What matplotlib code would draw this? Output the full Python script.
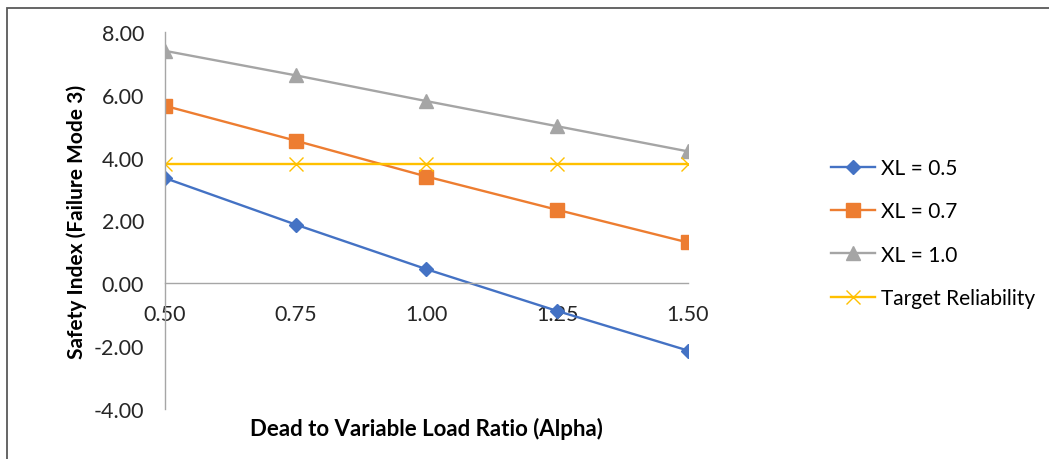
import matplotlib.pyplot as plt
from matplotlib.patches import Rectangle

# ── Data ──────────────────────────────────────────────────────────────────────
ALPHA = [0.50, 0.75, 1.00, 1.25, 1.50]
XL_05 = [3.35, 1.87, 0.45, -0.88, -2.14]
XL_07 = [5.65, 4.54, 3.40, 2.34, 1.30]
XL_10 = [7.40, 6.62, 5.80, 5.00, 4.20]
TARGET = [3.80, 3.80, 3.80, 3.80, 3.80]

plt.rcParams["font.family"] = ["Lato", "DejaVu Sans"]

fig = plt.figure(figsize=(10.49, 4.60), dpi=100)
ax = fig.add_axes([165 / 1049, 1 - 410 / 460, 523 / 1049, 377 / 460])

ax.plot(ALPHA, XL_05, color="#4472C4", lw=1.7, marker="D", ms=7, label="XL = 0.5")
ax.plot(ALPHA, XL_07, color="#ED7D31", lw=1.7, marker="s", ms=9.5, label="XL = 0.7")
ax.plot(ALPHA, XL_10, color="#A5A5A5", lw=1.7, marker="^", ms=9.5, label="XL = 1.0")
ax.plot(ALPHA, TARGET, color="#FFC000", lw=1.7, marker="x", ms=9.5, mew=1.0,
        label="Target Reliability")

ax.set_xlim(0.5, 1.5)
ax.set_ylim(-4, 8)
ax.set_xticks(ALPHA)
ax.set_yticks(range(-4, 9, 2))
ax.set_xticklabels([f"{v:.2f}" for v in ALPHA])
ax.set_yticklabels([f"{v:.2f}" for v in range(-4, 9, 2)])

for s in ("top", "right"):
    ax.spines[s].set_visible(False)
ax.spines["bottom"].set_position(("data", 0))
for s in ("left", "bottom"):
    ax.spines[s].set_color("#A6A6A6")
    ax.spines[s].set_linewidth(1.0)

ax.tick_params(axis="both", length=0, labelsize=15.5, labelcolor="#262626")
ax.tick_params(axis="y", pad=15)
ax.tick_params(axis="x", pad=15)

ax.set_ylabel("Safety Index (Failure Mode 3)", fontsize=15, fontweight="bold")
ax.yaxis.set_label_coords(-0.15, 0.5)
ax.set_xlabel("Dead to Variable Load Ratio (Alpha)", fontsize=16, fontweight="bold")
ax.xaxis.set_label_coords(0.5, -0.05)
ax.xaxis.label.set_va("center")

fig.legend(loc="center left", bbox_to_anchor=(812 / 1049, 1 - 234 / 460),
           frameon=False, fontsize=15, labelspacing=1.12, handlelength=2.1,
           handletextpad=0.3)

# outer chart-area frame (runs off the right and bottom edges)
fig.patches.append(Rectangle((7 / 1049, -0.1), 1.2, 1 - 9 / 460 + 0.1,
                             transform=fig.transFigure, fill=False,
                             edgecolor="#595959", lw=1.3))

fig.savefig("out.png", dpi=100)
